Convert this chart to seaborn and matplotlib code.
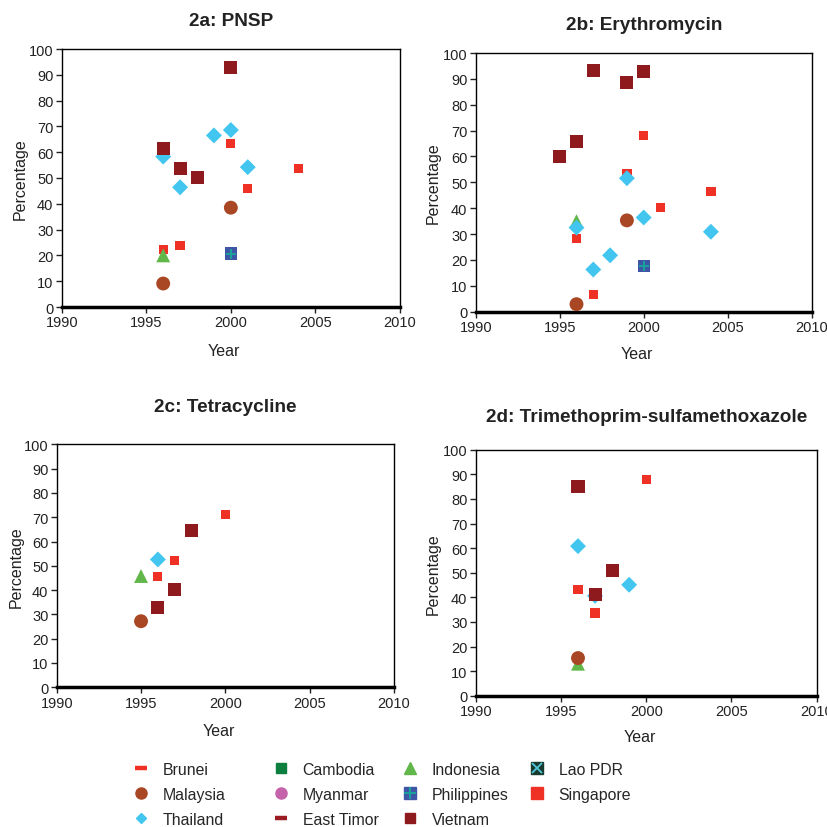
import matplotlib
matplotlib.use("Agg")
import matplotlib.pyplot as plt
from matplotlib.lines import Line2D
import pandas as pd
import seaborn as sns

# 2a: PNSP
pnsp_country = ["Singapore"] * 5 + ["Indonesia", "Philippines"] + ["Thailand"] * 5 + ["Malaysia"] * 2 + ["Vietnam"] * 4
pnsp_year = [1996, 1997, 2000, 2001, 2004, 1996, 2000, 1996, 1997, 1999, 2000, 2001, 1996, 2000, 1996, 1997, 1998, 2000]
pnsp_pct = [22.3, 23.8, 63.5, 46.0, 53.8, 20.0, 20.7, 58.3, 46.4, 66.5, 68.6, 54.2, 9.1, 38.5, 61.3, 53.6, 50.2, 92.9]

# 2b: Erythromycin
ery_country = ["Singapore"] * 6 + ["Indonesia", "Philippines"] + ["Thailand"] * 6 + ["Malaysia"] * 2 + ["Vietnam"] * 5
ery_year = [1996, 1997, 1999, 2000, 2001, 2004, 1996, 2000, 1996, 1997, 1998, 1999, 2000, 2004, 1996, 1999, 1995, 1996, 1997, 1999, 2000]
ery_pct = [28.4, 6.5, 53.5, 68.2, 40.2, 46.5, 35.0, 17.6, 32.5, 16.3, 21.8, 51.6, 36.4, 30.9, 2.9, 35.3, 59.9, 65.9, 93.4, 88.7, 92.7]

# 2c: Tetracycline
tet_country = ["Singapore"] * 3 + ["Indonesia", "Thailand", "Malaysia"] + ["Vietnam"] * 3
tet_year = [1996, 1997, 2000, 1995, 1996, 1995, 1996, 1997, 1998]
tet_pct = [45.5, 52.2, 71.1, 45.8, 52.6, 27.2, 32.9, 40.4, 64.7]

# 2d: Trimethoprim-sulfamethoxazole
tmp_country = ["Singapore"] * 3 + ["Indonesia"] + ["Thailand"] * 3 + ["Malaysia"] + ["Vietnam"] * 3
tmp_year = [1996, 1997, 2000, 1996, 1996, 1997, 1999, 1996, 1996, 1997, 1998]
tmp_pct = [43.1, 33.6, 87.9, 13.0, 60.8, 40.6, 45.1, 15.3, 85.1, 41.0, 51.0]

titles = ["2a: PNSP", "2b: Erythromycin", "2c: Tetracycline", "2d: Trimethoprim-sulfamethoxazole"]

countries = ["Brunei", "Malaysia", "Thailand", "Cambodia", "Myanmar", "East Timor",
             "Indonesia", "Philippines", "Vietnam", "Lao PDR", "Singapore"]
colors = {"Brunei": "#EE3124", "Malaysia": "#A94624", "Thailand": "#42C6EF",
          "Cambodia": "#0C7E3E", "Myanmar": "#C462AA", "East Timor": "#9B1B22",
          "Indonesia": "#62B74A", "Philippines": "#3E56A6", "Vietnam": "#8E1A1E",
          "Lao PDR": "#173B2E", "Singapore": "#EE3124"}
markers = {"Singapore": "s", "Indonesia": "^", "Philippines": "s", "Thailand": "D",
           "Malaysia": "o", "Vietnam": "s"}
sizes = {"Singapore": 44, "Indonesia": 100, "Philippines": 78, "Thailand": 66,
         "Malaysia": 100, "Vietnam": 88}

sns.set_style("white")
plt.rcParams["font.family"] = ["Liberation Sans", "DejaVu Sans"]

fig = plt.figure(figsize=(8.27, 8.28), dpi=100)
W, H = 827, 828
boxes = [(61.7, 50, 400, 308), (475.7, 54, 811.7, 312.7),
         (56.7, 445.3, 394, 688.3), (475.7, 450.7, 816.7, 696.7)]
title_y = [22, 25, 408, 418]
xlab_y = [352, 355, 732, 738]
ylab_x = [20, 433, 16, 433]

panels = [(pnsp_country, pnsp_year, pnsp_pct), (ery_country, ery_year, ery_pct),
          (tet_country, tet_year, tet_pct), (tmp_country, tmp_year, tmp_pct)]

for i, (cty, yr, pct) in enumerate(panels):
    l, t, r, b = boxes[i]
    ax = fig.add_axes([l / W, 1 - b / H, (r - l) / W, (b - t) / H])
    df = pd.DataFrame({"country": cty, "year": yr, "pct": pct})
    sns.scatterplot(data=df, x="year", y="pct", hue="country", style="country",
                    size="country", palette=colors, markers=markers, sizes=sizes,
                    linewidth=0, legend=False, ax=ax, zorder=3)
    ph = df[df["country"] == "Philippines"]
    if len(ph):
        sns.scatterplot(data=ph, x="year", y="pct", marker="+", color="#1AA39A",
                        s=60, linewidth=1.4, legend=False, ax=ax, zorder=4)
    ax.set_xlim(1990, 2010)
    ax.set_ylim(0, 100)
    ax.set_xticks(range(1990, 2011, 5))
    ax.set_yticks(range(0, 101, 10))
    ax.tick_params(labelsize=10.5, length=4, width=1, direction="out", colors="#222222",
                   bottom=True, left=True, pad=2)
    for s in ax.spines.values():
        s.set_color("black")
        s.set_linewidth(1)
    ax.spines["bottom"].set_linewidth(2.5)
    ax.set_xlabel("Year", fontsize=11.5, color="#222222", va="center")
    ax.set_ylabel("Percentage", fontsize=11.5, color="#222222", va="center")
    ax.xaxis.set_label_coords(0.48, (b - xlab_y[i]) / (b - t))
    ax.yaxis.set_label_coords((ylab_x[i] - l) / (r - l), 0.5)
    ax.text(0.5, (b - title_y[i]) / (b - t), titles[i], transform=ax.transAxes,
            ha="center", va="center", fontsize=13.7, fontweight="bold", color="#222222")


def mk(name, marker, ms, **kw):
    return Line2D([], [], linestyle="none", marker=marker, markersize=ms,
                  color=colors[name], **kw)


handles = {
    "Brunei": mk("Brunei", "_", 9, markeredgewidth=3.2),
    "Malaysia": mk("Malaysia", "o", 8),
    "Thailand": mk("Thailand", "D", 5.5),
    "Cambodia": mk("Cambodia", "s", 7),
    "Myanmar": mk("Myanmar", "o", 8),
    "East Timor": mk("East Timor", "_", 9, markeredgewidth=3.2),
    "Indonesia": mk("Indonesia", "^", 8),
    "Philippines": (mk("Philippines", "s", 8),
                    Line2D([], [], linestyle="none", marker="+", markersize=8,
                           markeredgewidth=1.4, color="#1AA39A")),
    "Vietnam": mk("Vietnam", "s", 7.5),
    "Lao PDR": (mk("Lao PDR", "s", 8.5),
                Line2D([], [], linestyle="none", marker="x", markersize=6.5,
                       markeredgewidth=1.3, color="#52C5D8")),
    "Singapore": mk("Singapore", "s", 8),
}

columns = [["Brunei", "Malaysia", "Thailand"],
           ["Cambodia", "Myanmar", "East Timor"],
           ["Indonesia", "Philippines", "Vietnam"],
           ["Lao PDR", "Singapore"]]
col_x = [141, 281, 410, 537]
for names, cx in zip(columns, col_x):
    fig.legend([handles[n] for n in names], names, loc="upper left",
               bbox_to_anchor=((cx - 9.2) / W, 1 - 763 / H), frameon=False,
               fontsize=11.4, handlelength=1.2, handletextpad=0.75, labelspacing=0.62,
               borderpad=0, borderaxespad=0)

fig.savefig("out.png", dpi=100)
